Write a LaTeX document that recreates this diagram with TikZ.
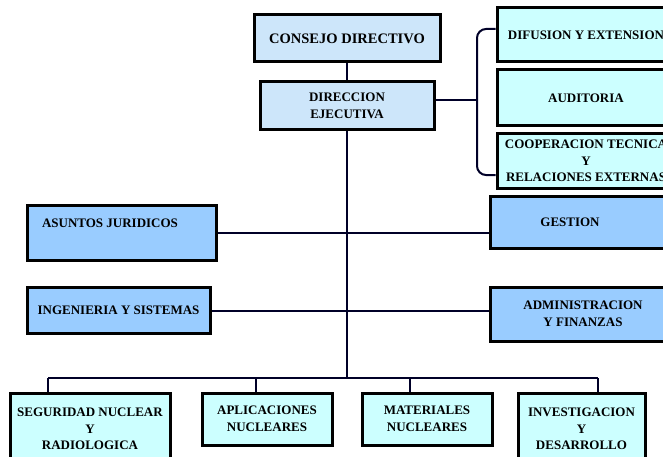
\documentclass[tikz,border=0pt]{standalone}
\usepackage{fontspec}
\setmainfont{Liberation Serif}
\usetikzlibrary{calc}
\definecolor{dirblue}{RGB}{205,230,250}
\definecolor{cyanlight}{RGB}{204,255,255}
\definecolor{midblue}{RGB}{153,204,255}
\definecolor{linenavy}{RGB}{0,0,40}
\tikzset{
  box/.style  = {draw=black, line width=3pt, align=center, inner sep=2pt,
                 font=\bfseries\fontsize{13}{16.5}\selectfont},
  dbox/.style = {box, fill=dirblue},
  cbox/.style = {box, fill=cyanlight},
  bbox/.style = {box, fill=midblue},
  link/.style = {draw=linenavy, line width=2pt},
}

\begin{document}
\begin{tikzpicture}[x=1pt, y=-1pt]
  \useasboundingbox[fill=white] (0,0) rectangle (663,457);
  % top of the chart
  \node[dbox, minimum width=186pt, minimum height=47pt, font=\bfseries\fontsize{14.5}{17}\selectfont]
    (cd) at (347,38.5) {CONSEJO DIRECTIVO};
  \node[dbox, minimum width=174pt, minimum height=48pt] (de) at (347,106) {DIRECCION\\EJECUTIVA};
  % staff units on the right
  \node[cbox, minimum width=178pt, minimum height=54pt] (dif) at (586,35) {DIFUSION Y EXTENSION};
  \node[cbox, minimum width=178pt, minimum height=56pt] (aud) at (586,98) {AUDITORIA};
  \node[cbox, minimum width=178pt, minimum height=54pt] (coop) at (586,161)
    {COOPERACION TECNICA\\Y\\RELACIONES EXTERNAS};
  % support units
  \node[bbox, minimum width=189pt, minimum height=55pt] (asu) at (121.5,232.5) {};
  \node[font=\bfseries\fontsize{13}{16.5}\selectfont] (asut) at (110,223) {ASUNTOS JURIDICOS};
  \node[bbox, minimum width=186pt, minimum height=52pt] (ges) at (583,222) {GESTION\hspace*{26pt}};
  \node[bbox, minimum width=183pt, minimum height=46pt] (ing) at (118.5,310) {INGENIERIA Y SISTEMAS};
  \node[bbox, minimum width=186pt, minimum height=54pt] (adm) at (583,314)
    {ADMINISTRACION\\Y FINANZAS};
  % line units
  \node[cbox, minimum width=160pt, minimum height=72pt] (seg) at (90,429)
    {SEGURIDAD NUCLEAR\\Y\\RADIOLOGICA};
  \node[cbox, minimum width=130pt, minimum height=52pt] (apl) at (267,419) {APLICACIONES\\NUCLEARES};
  \node[cbox, minimum width=130pt, minimum height=52pt] (mat) at (427,419) {MATERIALES\\NUCLEARES};
  \node[cbox, minimum width=127pt, minimum height=72pt] (inv) at (581.5,429)
    {INVESTIGACION\\Y\\DESARROLLO};

  \coordinate (brk) at (477,100);
  \coordinate (busl) at (48,378);
  \coordinate (busm) at (347,378);
  \coordinate (busr) at (598,378);

  \draw[link] (cd.south) -- (de.north);
  \draw[link] (de.south) -- (busm);
  \draw[link] (de.east |- brk) -- (brk);
  \draw[link, rounded corners=9pt] ($(dif.west)+(0,-6)$) -| (brk) |- ($(coop.west)+(0,14)$);
  \draw[link] (asu.east |- 0,233) -- (ges.west |- 0,233);
  \draw[link] (ing.east |- 0,311) -- (adm.west |- 0,311);
  \draw[link] (busl) -- (busr);
  \draw[link] (busl) -- (busl |- seg.north);
  \draw[link] (busl -| 256,0) -- ($(apl.north)+(-11,0)$);
  \draw[link] (busl -| 410,0) -- ($(mat.north)+(-17,0)$);
  \draw[link] (busr) -- (busr |- inv.north);
\end{tikzpicture}
\end{document}
